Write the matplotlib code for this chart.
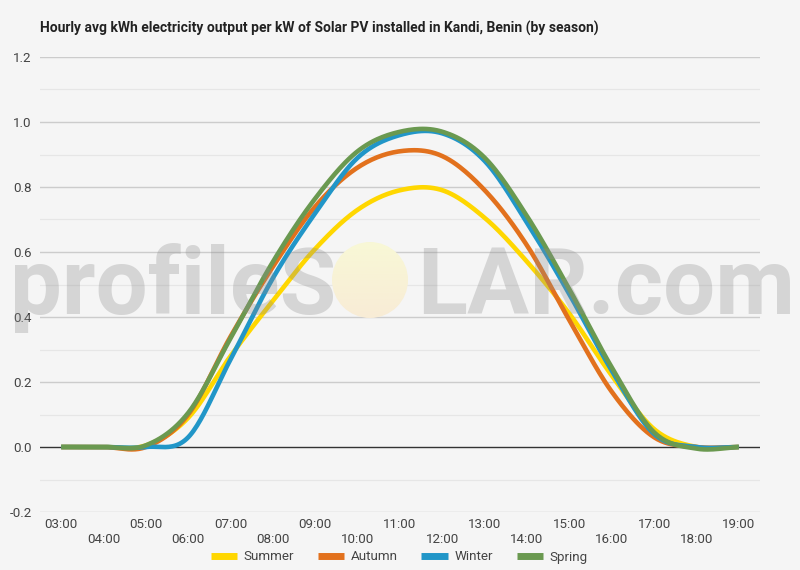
import numpy as np
import matplotlib
matplotlib.use("Agg")
import matplotlib.pyplot as plt
from matplotlib.patches import Circle
from matplotlib.lines import Line2D

plt.rcParams['font.family'] = ['Roboto', 'DejaVu Sans']

title = "Hourly avg kWh electricity output per kW of Solar PV installed in Kandi, Benin (by season)"
hour_labels = ["03:00", "04:00", "05:00", "06:00", "07:00", "08:00", "09:00", "10:00", "11:00",
               "12:00", "13:00", "14:00", "15:00", "16:00", "17:00", "18:00", "19:00"]
hours = [3, 4, 5, 6, 7, 8, 9, 10, 11, 12, 13, 14, 15, 16, 17, 18, 19]
summer = [0, 0, 0.005, 0.09, 0.28, 0.45, 0.61, 0.73, 0.79, 0.79, 0.705, 0.57, 0.41, 0.22, 0.055, 0.0, 0.0]
autumn = [0, 0, 0.0, 0.10, 0.34, 0.555, 0.74, 0.86, 0.91, 0.895, 0.79, 0.62, 0.39, 0.17, 0.03, 0.0, 0.0]
winter = [0, 0, 0.0, 0.03, 0.27, 0.52, 0.72, 0.89, 0.96, 0.965, 0.88, 0.69, 0.47, 0.235, 0.04, 0.0, 0.0]
spring = [0, 0, 0.005, 0.105, 0.335, 0.57, 0.765, 0.91, 0.97, 0.97, 0.89, 0.71, 0.485, 0.245, 0.045, -0.005, 0.0]
series_names = ["Summer", "Autumn", "Winter", "Spring"]
colors = ["#FFD700", "#E2711D", "#2196C8", "#6A9950"]
yticks = [-0.2, 0.0, 0.2, 0.4, 0.6, 0.8, 1.0, 1.2]


def smooth(x, y, n=24):
    x = np.asarray(x, float)
    y = np.asarray(y, float)
    m = np.zeros_like(y)
    m[1:-1] = (y[2:] - y[:-2]) / (x[2:] - x[:-2])
    m[0] = (y[1] - y[0]) / (x[1] - x[0])
    m[-1] = (y[-1] - y[-2]) / (x[-1] - x[-2])
    xs, ys = [], []
    for i in range(len(x) - 1):
        h = x[i + 1] - x[i]
        t = np.linspace(0, 1, n, endpoint=(i == len(x) - 2))
        h00 = 2 * t**3 - 3 * t**2 + 1
        h10 = t**3 - 2 * t**2 + t
        h01 = -2 * t**3 + 3 * t**2
        h11 = t**3 - t**2
        xs.append(x[i] + t * h)
        ys.append(h00 * y[i] + h10 * h * m[i] + h01 * y[i + 1] + h11 * h * m[i + 1])
    return np.concatenate(xs), np.concatenate(ys)


W, H = 800, 570
bg = "#f5f5f5"
fig = plt.figure(figsize=(W / 100, H / 100), dpi=100, facecolor=bg)
ax = fig.add_axes([40 / W, 1 - 512 / H, 720 / W, 455 / H], facecolor=bg)

ax.set_xlim(2.5, 19.5)
ax.set_ylim(-0.2, 1.2)
for s in ax.spines.values():
    s.set_visible(False)

# gridlines
for v in np.arange(-0.1, 1.2, 0.2):
    ax.axhline(v, color="#e6e6e6", lw=0.9, zorder=0)
for v in yticks:
    if v != 0:
        ax.axhline(v, color="#cccccc", lw=1.0, zorder=0.5)
ax.axhline(0, color="#333333", lw=1.0, zorder=1)

data = [summer, autumn, winter, spring]
for name, vals, c in zip(series_names, data, colors):
    xs, ys = smooth(hours, vals)
    ax.plot(xs, ys, color=c, lw=3.3, solid_capstyle="butt", zorder=3, label=name)

ax.set_yticks(yticks)
ax.set_yticklabels([f"{v:.1f}" for v in yticks], fontsize=9.6, color="#444444")
ax.set_xticks(hours)
ax.set_xticklabels([lab if i % 2 == 0 else "\n" + lab for i, lab in enumerate(hour_labels)],
                   fontsize=9.6, color="#444444", linespacing=1.25)
ax.tick_params(axis="both", length=0)
ax.tick_params(axis="y", pad=6)
ax.tick_params(axis="x", pad=4)

handles = [Line2D([0], [0], color=c, lw=5, solid_capstyle="butt") for c in colors]
fig.legend(handles, series_names, loc="center", bbox_to_anchor=(399 / W, 1 - 557 / H), ncol=4,
           frameon=False, fontsize=9.6, handlelength=2.0, handletextpad=0.45, columnspacing=1.8,
           labelcolor="#444444", borderpad=0.2)

# Title fitted to width
t = fig.text(40 / W, 1 - 28 / H, title, fontsize=10, fontweight="bold", color="#222222",
             ha="left", va="center")
fig.canvas.draw()
r = fig.canvas.get_renderer()
wt = t.get_window_extent(r).width
t.set_fontsize(10 * 561 / wt)

# watermark overlay
ov = fig.add_axes([0, 0, 1, 1], facecolor="none", zorder=10)
ov.set_xlim(0, W)
ov.set_ylim(H, 0)
ov.axis("off")
wm_kw = dict(fontsize=60, color="#8c8c8c", alpha=0.3, va="baseline",
             family=["Liberation Sans Narrow", "Roboto", "DejaVu Sans"], fontweight="bold")
t1 = ov.text(10, 314, "profileS", ha="left", **wm_kw)
t2 = ov.text(795, 314, "LAR.com", ha="right", **wm_kw)
fig.canvas.draw()
r = fig.canvas.get_renderer()
w1 = t1.get_window_extent(r).width
w2 = t2.get_window_extent(r).width
fs = 60 * ((320 / w1) + (385 / w2)) / 2
t1.set_fontsize(fs)
t2.set_fontsize(fs)

# sun circle with gradient
grad = np.linspace(0, 1, 100)[:, None]
top = np.array([249, 248, 214]) / 255
bot = np.array([248, 236, 214]) / 255
img = top[None, None, :] * (1 - grad[..., None]) + bot[None, None, :] * grad[..., None]
img = np.repeat(img, 2, axis=1)
im = ov.imshow(img, extent=(332, 408, 318, 242), aspect="auto", zorder=9)
circ = Circle((370, 280), 38, transform=ov.transData, facecolor="none", edgecolor="none")
ov.add_patch(circ)
im.set_clip_path(circ)
ov.set_xlim(0, W)
ov.set_ylim(H, 0)

fig.savefig("out.png", dpi=100, facecolor=bg)
